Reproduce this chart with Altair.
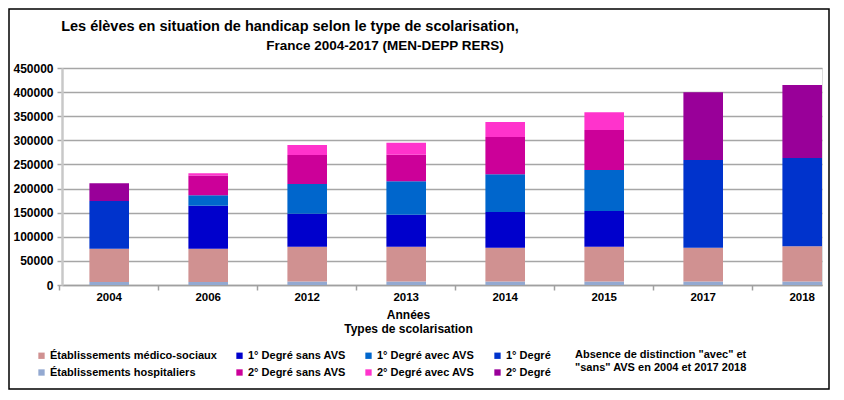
import altair as alt
import pandas as pd

years = ["2004", "2006", "2012", "2013", "2014", "2015", "2017", "2018"]

hospitaliers = [6000, 6000, 7500, 7500, 7000, 7500, 7500, 7500]
medico_sociaux = [69000, 69000, 72000, 72000, 70500, 72000, 70000, 73000]
deg1_sans_avs = [None, 89500, 68500, 66300, 74000, 74000, None, None]
deg1_avec_avs = [None, 21500, 61500, 69200, 78200, 85000, None, None]
deg1_total = [99000, None, None, None, None, None, 181800, 183000]
deg2_sans_avs = [None, 41000, 60000, 55300, 77400, 83000, None, None]
deg2_avec_avs = [None, 4600, 21000, 24800, 31000, 36700, None, None]
deg2_total = [37000, None, None, None, None, None, 140400, 151500]

series = [
    ("Établissements hospitaliers", hospitaliers, "#93a9d1"),
    ("Établissements médico-sociaux", medico_sociaux, "#d09191"),
    ("1° Degré sans AVS", deg1_sans_avs, "#0000cc"),
    ("1° Degré avec AVS", deg1_avec_avs, "#0066cc"),
    ("1° Degré", deg1_total, "#0033cc"),
    ("2° Degré sans AVS", deg2_sans_avs, "#cc0099"),
    ("2° Degré avec AVS", deg2_avec_avs, "#ff33cc"),
    ("2° Degré", deg2_total, "#990099"),
]

# legend filled column by column, 2 rows x 4 columns
legend_order = [
    "Établissements médico-sociaux", "Établissements hospitaliers",
    "1° Degré sans AVS", "2° Degré sans AVS",
    "1° Degré avec AVS", "2° Degré avec AVS",
    "1° Degré", "2° Degré",
]
color_of = {name: col for name, _, col in series}

rows = []
for k, (name, vals, _) in enumerate(series):
    for y, v in zip(years, vals):
        if v is not None:
            rows.append({"annee": y, "type": name, "eleves": v, "ordre": k})
df = pd.DataFrame(rows)

title_text = "Les élèves en situation de handicap selon le type de scolarisation,"
subtitle_text = "France 2004-2017 (MEN-DEPP RERS)"
note_lines = ['Absence de distinction "avec" et', '"sans" AVS en 2004 et 2017  2018']
x_title = ["Années", "Types de scolarisation"]

SANS = "Liberation Sans, Arial, sans-serif"

W, H = 760, 217

xscale = alt.Scale(domain=years, paddingInner=0.6, paddingOuter=0.1384, align=1)

bars = alt.Chart(df).mark_bar().encode(
    x=alt.X("annee:N", scale=xscale, sort=years,
            axis=alt.Axis(labels=False, title=x_title, bandPosition=-0.75,
                          domainColor="#a0a0a0", domainWidth=1.5,
                          tickColor="#a0a0a0", tickSize=5, tickWidth=1.5,
                          titleFont=SANS, titleFontSize=12, titleFontWeight="bold",
                          titleColor="black", titleX=346, titleY=24,
                          titleBaseline="top", titleLineHeight=14)),
    y=alt.Y("eleves:Q", stack="zero",
            scale=alt.Scale(domain=[0, 450000], nice=False),
            axis=alt.Axis(values=list(range(0, 450001, 50000)), format="d", title=None,
                          labelFont=SANS, labelFontSize=12, labelFontWeight="bold",
                          labelColor="black", labelPadding=4,
                          grid=True, gridColor="#a6a6a6", gridWidth=1.5,
                          domainColor="#c8c8c8", domainWidth=2.5,
                          tickColor="#a6a6a6", tickSize=5, tickWidth=1.5)),
    color=alt.Color("type:N",
                    scale=alt.Scale(domain=legend_order,
                                    range=[color_of[n] for n in legend_order]),
                    legend=alt.Legend(title=None, orient="none", legendX=-26, legendY=282,
                                      columns=4, columnPadding=17, rowPadding=5,
                                      symbolType="square", symbolSize=40,
                                      symbolStrokeWidth=0, labelOffset=3,
                                      labelFont=SANS, labelFontSize=11,
                                      labelFontWeight="bold", labelColor="black",
                                      labelLimit=300)),
    order=alt.Order("ordre:Q", sort="ascending"),
)

year_labels = alt.Chart(pd.DataFrame({"annee": years})).mark_text(
    font=SANS, fontSize=11.5, fontWeight="bold", color="black", baseline="middle"
).encode(
    x=alt.X("annee:N", scale=xscale, sort=years),
    y=alt.value(H + 13),
    text="annee:N",
)

one = pd.DataFrame({"k": [0]})

title = alt.Chart(one).mark_text(
    text=title_text, font=SANS, fontSize=14.5, fontWeight="bold", color="black",
    align="center", baseline="middle"
).encode(x=alt.value(228), y=alt.value(-41))

subtitle = alt.Chart(one).mark_text(
    text=subtitle_text, font=SANS, fontSize=13.5, fontWeight="bold", color="black",
    align="center", baseline="middle"
).encode(x=alt.value(323), y=alt.value(-22))

note = alt.Chart(one).mark_text(
    text=note_lines, font=SANS, fontSize=11, fontWeight="bold", color="black",
    align="left", baseline="top", lineHeight=13
).encode(x=alt.value(513), y=alt.value(281))

frame = alt.Chart(one).mark_rect(
    fill="transparent", stroke="black", strokeWidth=1.5
).encode(x=alt.value(-53), x2=alt.value(767), y=alt.value(-59), y2=alt.value(321))

chart = alt.layer(frame, bars, year_labels, title, subtitle, note).properties(
    width=W, height=H,
    autosize=alt.AutoSizeParams(type="none"),
    padding={"left": 54, "top": 60, "right": 10, "bottom": 106},
).configure_view(strokeWidth=0).configure(background="white")

chart.save("out.html", embed_options={"renderer": "svg", "actions": False})
